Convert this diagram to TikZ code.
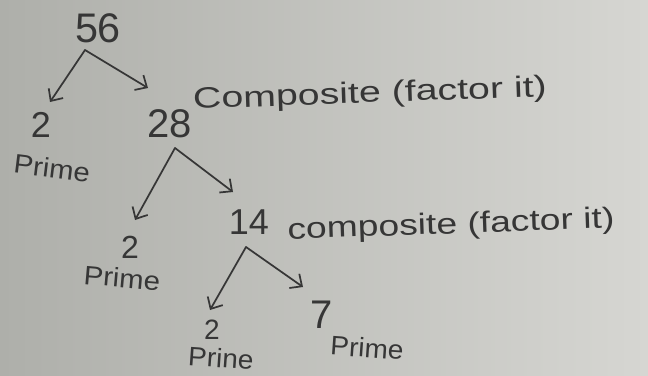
\documentclass[tikz,border=0pt]{standalone}
\usepackage{fontspec}
\setmainfont{Liberation Sans}
\usetikzlibrary{arrows.meta,calc}
\definecolor{ink}{HTML}{363636}
\definecolor{paperL}{HTML}{AEAFAA}
\definecolor{paperR}{HTML}{D6D6D2}
\newcommand{\fs}[1]{\fontsize{#1}{#1}\selectfont}
\tikzset{
  num/.style={text=ink, inner sep=0pt},
  lbl/.style={text=ink, inner sep=0pt, font=\fs{20}},
  note/.style={text=ink, inner sep=0pt, font=\fs{22}},
  branch/.style={draw=ink, line width=1.3pt, line cap=round, line join=round,
    -{Straight Barb[length=7pt,width=13pt,line width=1.3pt]}},
}
\begin{document}
\begin{tikzpicture}[x=0.75pt,y=-0.75pt]
\shade[left color=paperL, right color=paperR] (0,0) rectangle (648,375);
\useasboundingbox (0,0) rectangle (648,375);
% level 0
\node[num, font=\fs{31}] (n56) at (98,28) {56};
\coordinate (a1) at (85,50);
% level 1
\node[num, font=\fs{27}] (n2a) at (41,125) {2};
\node[lbl, rotate=-7] (p1) at (52,168) {\scalebox{1.1}[1]{Prime}};
\node[num, font=\fs{30}] (n28) at (170,124) {28};
\node[note, rotate=2] (c1) at (370,95) {\scalebox{1.34}[1]{Composite (factor it)}};
\draw[branch] (a1) -- ($(n2a)+(9,-23)$);
\draw[branch] (a1) -- ($(n28)+(-22,-36)$);
% level 2
\coordinate (a2) at (175,148);
\node[num, font=\fs{24}] (n2b) at (130,247) {2};
\node[lbl, rotate=-5] (p2) at (122,278) {\scalebox{1.1}[1]{Prime}};
\node[num, font=\fs{27}] (n14) at (249,222) {14};
\node[note, rotate=2] (c2) at (451,226) {\scalebox{1.27}[1]{composite (factor it)}};
\draw[branch] (a2) -- ($(n2b)+(5,-27)$);
\draw[branch] (a2) -- ($(n14)+(-16,-30)$);
% level 3
\coordinate (a3) at (246,247);
\node[num, font=\fs{21}] (n2c) at (212,330) {2};
\node[lbl, rotate=-4] (p3) at (221,358) {\scalebox{1.05}[1]{Prine}};
\node[num, font=\fs{30}] (n7) at (322,315) {7};
\node[lbl, rotate=-4] (p4) at (367,348) {\scalebox{1.05}[1]{Prime}};
\draw[branch] (a3) -- ($(n2c)+(-2,-20)$);
\draw[branch] (a3) -- ($(n7)+(-19,-28)$);
\end{tikzpicture}
\end{document}
